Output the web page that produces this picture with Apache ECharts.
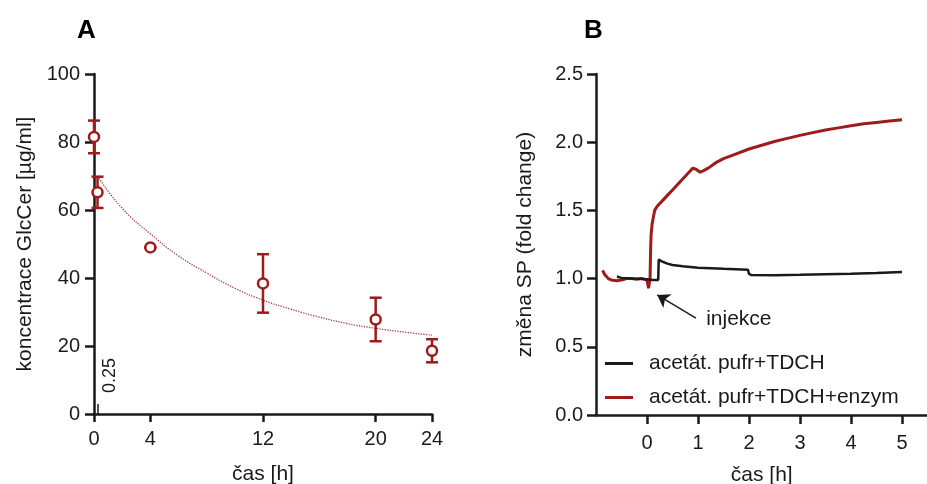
<!DOCTYPE html>
<html>
<head>
<meta charset="utf-8">
<script src="https://cdn.jsdelivr.net/npm/echarts@6/dist/echarts.min.js"></script>
<style>
  html, body { margin: 0; padding: 0; background: #fff; }
  #main { width: 927px; height: 484px; }
</style>
</head>
<body>
<div id="main"></div>
<script>
// panel A - GlcCer concentration
var timeA = [0, 0.25, 4, 12, 20, 24];
var meanA = [81.5, 65.2, 49, 38.4, 27.8, 18.6];
var sdA = [4.8, 4.6, 0, 8.6, 6.4, 3.4];
var fitT = [0.25, 2, 4, 6, 8, 10, 12, 14, 16, 18, 20, 22, 24];
var fitY = [70, 60.5, 53, 46.5, 41.5, 37, 33.5, 30.8, 28.5, 26.6, 25.2, 24.1, 23.2];
var ticksA = [0, 4, 12, 20, 24];

// panel B - SP fold change
var blackT = [-0.59, -0.5, -0.3, -0.1, 0, 0.1, 0.22, 0.23, 0.3, 0.4, 0.5, 0.7, 1.0, 1.5, 1.98, 2.0, 2.05, 2.5, 3.0, 3.5, 4.0, 4.5, 5.0];
var blackY = [1.015, 1.005, 1.0, 0.998, 0.995, 0.99, 0.99, 1.14, 1.125, 1.11, 1.1, 1.09, 1.08, 1.072, 1.065, 1.035, 1.026, 1.025, 1.028, 1.032, 1.036, 1.041, 1.048];
var redT = [-0.87, -0.83, -0.76, -0.7, -0.6, -0.5, -0.4, -0.3, -0.2, -0.1, 0, 0.03, 0.05, 0.06, 0.07, 0.08, 0.1, 0.12, 0.15, 0.2, 0.25, 0.3, 0.4, 0.5, 0.6, 0.7, 0.8, 0.9, 0.97, 1.04, 1.1, 1.2, 1.35, 1.5, 1.75, 2.0, 2.25, 2.5, 2.75, 3.0, 3.25, 3.5, 3.75, 4.0, 4.25, 4.5, 4.75, 5.0];
var redY = [1.06, 1.03, 1.0, 0.99, 0.985, 0.99, 1.0, 1.0, 0.995, 1.0, 0.99, 0.93, 0.92, 1.0, 1.2, 1.32, 1.4, 1.44, 1.5, 1.53, 1.55, 1.57, 1.61, 1.65, 1.69, 1.73, 1.77, 1.81, 1.8, 1.78, 1.79, 1.81, 1.85, 1.88, 1.915, 1.95, 1.978, 2.005, 2.028, 2.05, 2.07, 2.09, 2.105, 2.12, 2.135, 2.145, 2.155, 2.165];
var ticksB = [0, 1, 2, 3, 4, 5];
var seriesNames = ['acetát. pufr+TDCH', 'acetát. pufr+TDCH+enzym'];

var RED = '#9e1b1b';
var INK = '#1a1a1a';
var FONT = '"Liberation Sans", Arial, sans-serif';

function pairs(xs, ys) {
    return xs.map(function (x, i) { return [x, ys[i]]; });
}

var axisLine = {onZero: false, lineStyle: {color: INK, width: 2.5}};
var axisTick = {length: 9, lineStyle: {color: INK, width: 2.5}};
var tickFont = {fontSize: 20, color: INK, fontFamily: FONT};
var nameFont = {fontSize: 21, color: INK, fontFamily: FONT};
var letterFont = {fontSize: 26, fontWeight: 'bold', color: '#000', fontFamily: FONT};

var chart = echarts.init(document.getElementById('main'));
var option = {
    animation: false,
    textStyle: {fontFamily: FONT},
    title: [
        {text: 'A', left: 77, top: 18, padding: 0, textStyle: letterFont},
        {text: 'B', left: 584, top: 18, padding: 0, textStyle: letterFont}
    ],
    legend: {
        data: seriesNames,
        orient: 'vertical',
        left: 605,
        top: 352,
        padding: 0,
        icon: 'rect',
        itemWidth: 28,
        itemHeight: 3,
        itemGap: 11,
        textStyle: {fontSize: 21, color: INK, fontFamily: FONT, padding: [0, 0, 0, 11], lineHeight: 23}
    },
    grid: [
        {left: 94, top: 74, width: 338, height: 340, outerBoundsMode: 'none', containLabel: false},
        {left: 596, top: 74, width: 331.5, height: 341, outerBoundsMode: 'none', containLabel: false}
    ],
    xAxis: [
        {
            gridIndex: 0, type: 'value', min: 0, max: 24,
            name: 'čas [h]', nameLocation: 'middle', nameGap: 50, nameTextStyle: nameFont,
            axisLine: axisLine,
            axisTick: {length: 8, lineStyle: {color: INK, width: 2.5}, customValues: ticksA},
            axisLabel: Object.assign({margin: 15, customValues: ticksA}, tickFont),
            splitLine: {show: false}
        },
        {
            gridIndex: 0, type: 'value', min: 0, max: 24, position: 'bottom',
            axisLine: {show: false},
            axisTick: {inside: true, length: 10, lineStyle: {color: INK, width: 1.5}, customValues: [0.25]},
            axisLabel: {inside: true, rotate: 90, margin: 21, verticalAlign: 'top', lineHeight: 26, fontSize: 18, color: INK, fontFamily: FONT, customValues: [0.25], formatter: function (v) { return '0.25'; }},
            splitLine: {show: false}
        },
        {
            gridIndex: 1, type: 'value', min: -1, max: 5.5,
            name: 'čas [h]', nameLocation: 'middle', nameGap: 50, nameTextStyle: nameFont,
            axisLine: axisLine,
            axisTick: {length: 9, lineStyle: {color: INK, width: 2.5}, customValues: ticksB},
            axisLabel: Object.assign({margin: 18, customValues: ticksB}, tickFont),
            splitLine: {show: false}
        }
    ],
    yAxis: [
        {
            gridIndex: 0, type: 'value', min: 0, max: 100, interval: 20,
            name: 'koncentrace GlcCer [µg/ml]', nameLocation: 'middle', nameGap: 58, nameTextStyle: nameFont,
            axisLine: Object.assign({show: true}, axisLine),
            axisTick: axisTick,
            axisLabel: Object.assign({margin: 14}, tickFont),
            splitLine: {show: false}
        },
        {
            gridIndex: 1, type: 'value', min: 0, max: 2.5, interval: 0.5,
            name: 'změna SP (fold change)', nameLocation: 'middle', nameGap: 60, nameTextStyle: nameFont,
            axisLine: Object.assign({show: true}, axisLine),
            axisTick: axisTick,
            axisLabel: Object.assign({margin: 13, formatter: function (v) { return v.toFixed(1); }}, tickFont),
            splitLine: {show: false}
        }
    ],
    series: [
        {
            name: 'fit', type: 'line', xAxisIndex: 0, yAxisIndex: 0,
            data: pairs(fitT, fitY), smooth: true, showSymbol: false, silent: true,
            lineStyle: {color: '#a8404a', width: 1.3, type: 'dotted'}, z: 1
        },
        {
            name: 'sd', type: 'custom', xAxisIndex: 0, yAxisIndex: 0,
            data: timeA.map(function (t, i) { return [t, meanA[i] - sdA[i], meanA[i] + sdA[i]]; }),
            renderItem: function (params, api) {
                var lo = api.coord([api.value(0), api.value(1)]);
                var hi = api.coord([api.value(0), api.value(2)]);
                var w = 6;
                var st = {stroke: RED, lineWidth: 2.5};
                return {
                    type: 'group',
                    children: [
                        {type: 'line', shape: {x1: lo[0], y1: lo[1], x2: hi[0], y2: hi[1]}, style: st},
                        {type: 'line', shape: {x1: lo[0] - w, y1: lo[1], x2: lo[0] + w, y2: lo[1]}, style: st},
                        {type: 'line', shape: {x1: hi[0] - w, y1: hi[1], x2: hi[0] + w, y2: hi[1]}, style: st}
                    ]
                };
            },
            silent: true, z: 2
        },
        {
            name: 'mean', type: 'scatter', xAxisIndex: 0, yAxisIndex: 0,
            data: pairs(timeA, meanA), symbol: 'circle', symbolSize: 10,
            itemStyle: {color: '#fff', borderColor: RED, borderWidth: 2.5, opacity: 1}, z: 3
        },
        {
            name: seriesNames[0], type: 'line', xAxisIndex: 2, yAxisIndex: 1,
            data: pairs(blackT, blackY), showSymbol: false, symbol: 'none',
            lineStyle: {color: INK, width: 2.5}, itemStyle: {color: INK}, z: 3,
            markLine: {
                silent: true, symbol: ['none', 'arrow'], symbolSize: 12,
                lineStyle: {color: INK, width: 1.5, type: 'solid'},
                label: {show: false},
                data: [[{coord: [0.96, 0.71]}, {coord: [0.2, 0.88]}]]
            },
            markPoint: {
                silent: true, symbol: 'circle', symbolSize: 1,
                itemStyle: {color: 'rgba(0,0,0,0)'},
                label: {show: true, position: 'right', distance: 0, formatter: 'injekce', fontSize: 21, color: INK, fontFamily: FONT},
                data: [{coord: [1.15, 0.70]}]
            }
        },
        {
            name: seriesNames[1], type: 'line', xAxisIndex: 2, yAxisIndex: 1,
            data: pairs(redT, redY), showSymbol: false, symbol: 'none',
            lineStyle: {color: RED, width: 3}, itemStyle: {color: RED}, z: 2
        }
    ]
};
chart.setOption(option);
</script>
</body>
</html>
